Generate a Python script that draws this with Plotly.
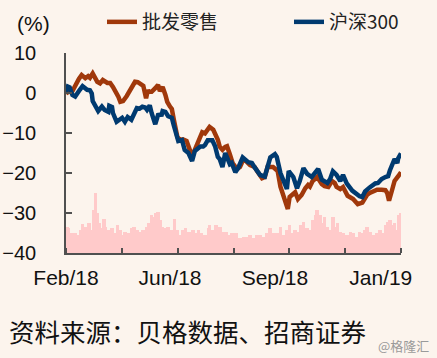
import pandas as pd
import plotly.graph_objects as go

START = "2018-02-01"

# 批发零售 (wholesale & retail), cumulative % change; day offsets from 2018-02-01
retail_days = [0, 3, 7, 11, 14, 17, 21, 24, 26, 29, 34, 37, 40, 45, 48, 51, 53, 57, 59, 62,
               66, 70, 72, 75, 78, 80, 84, 87, 89, 90, 93, 97, 100, 102, 105, 108, 110, 113, 115, 117,
               120, 121, 124, 127, 131, 135, 138, 142, 146, 148, 151, 156, 160, 162, 165, 167, 170, 173, 175, 178,
               181, 186, 189, 192, 195, 200, 205, 208, 211, 213, 216, 219, 225, 230, 233, 235, 238, 241, 243, 249,
               252, 256, 260, 263, 265, 268, 273, 276, 278, 281, 285, 289, 292, 294, 298, 301, 306, 312, 317, 322,
               325, 327, 330, 333, 336, 338, 343, 347, 349, 351, 354, 357, 361, 364]
retail_vals = [-0.1, 0.3, 0.5, 2.4, 3.5, 4.5, 3.7, 4.2, 3.8, 4.9, 2.8, 2.4, 3.25, 2.5, 2.5, 1.5, 0.75, -1.0, -2.2, -2.0,
               -0.75, 0.8, 1.6, 2.8, 2.7, 2.4, 1.8, -1.3, 0.75, 0.3, 0.3, 1.2, 2.0, 0.5, 1.5, -0.5, -2.2, -3.4, -4.0, -6.5,
               -10.0, -11.0, -11.75, -11.6, -12.0, -14.5, -15.3, -13.0, -10.5, -9.8, -10.1, -8.5, -9.2, -10.0, -11.7, -13.4, -14.2, -13.5, -13.3, -15.3,
               -17.5, -19.0, -18.5, -17.0, -16.9, -18.0, -18.5, -19.6, -20.5, -21.3, -21.0, -18.5, -18.5, -19.5, -23.4, -25.0, -27.5, -29.0, -26.0, -24.8,
               -26.5, -25.5, -23.8, -23.0, -23.4, -22.0, -21.0, -22.0, -22.8, -23.3, -23.5, -22.0, -22.5, -23.5, -24.0, -23.5, -25.7, -26.5, -27.8, -27.4,
               -26.0, -25.5, -25.0, -24.6, -24.3, -24.2, -24.2, -24.3, -25.0, -26.9, -24.5, -22.0, -20.8, -19.8]

# 沪深300 (CSI 300), cumulative % change
csi_days = [0, 2, 4, 7, 10, 12, 15, 18, 23, 26, 28, 29, 32, 35, 39, 42, 46, 47, 50, 51,
            55, 59, 61, 64, 67, 71, 75, 77, 80, 83, 86, 88, 90, 91, 93, 97, 100, 104, 105, 108,
            111, 115, 117, 120, 122, 126, 129, 133, 137, 140, 146, 149, 151, 154, 156, 159, 162, 165, 167, 170,
            173, 175, 176, 178, 180, 184, 187, 192, 198, 202, 205, 211, 216, 222, 227, 229, 233, 236, 240, 242,
            247, 251, 254, 258, 262, 267, 271, 274, 278, 284, 287, 290, 294, 298, 301, 305, 311, 316, 319, 322,
            325, 330, 336, 339, 343, 347, 350, 352, 355, 357, 360, 361, 364]
csi_vals = [0.3, 1.6, 1.4, -0.5, -0.9, 0.0, 0.8, 1.7, 0.8, 0.7, -0.1, -2.0, -3.4, -4.5, -3.4, -4.25, -4.7, -3.2, -3.5, -5.0,
            -7.2, -6.4, -6.2, -7.2, -6.0, -6.7, -4.7, -3.75, -3.9, -3.4, -3.6, -4.2, -3.5, -3.1, -5.0, -7.8, -5.5, -5.4, -4.5, -4.7,
            -5.8, -6.2, -8.0, -11.0, -12.0, -11.75, -14.25, -15.0, -17.0, -14.5, -13.4, -13.4, -13.0, -11.8, -11.75, -11.8, -13.3, -16.0, -16.5, -18.5,
            -15.0, -16.0, -16.5, -17.8, -17.5, -19.8, -18.8, -16.1, -17.3, -17.5, -18.6, -20.5, -20.9, -16.1, -15.3, -16.0, -20.0, -21.5, -24.0, -19.5,
            -21.0, -23.8, -22.0, -18.8, -20.2, -21.0, -19.8, -19.0, -21.7, -22.5, -21.5, -19.6, -20.5, -22.0, -20.5, -22.6, -24.4, -25.3, -25.8, -26.0,
            -24.6, -23.6, -22.6, -22.5, -21.5, -21.0, -20.8, -19.3, -17.2, -16.5, -17.5, -16.3, -15.1]

# Pink background bars (turnover level, height above the -40 baseline)
bar_days = [1, 2, 6, 10, 13, 16, 18, 21, 23, 25, 28, 30, 32, 34, 36, 38, 41, 43, 46, 50,
            53, 56, 59, 60, 64, 68, 71, 74, 77, 80, 84, 88, 90, 93, 96, 98, 100, 102, 105, 109,
            111, 115, 118, 121, 124, 127, 130, 134, 138, 141, 144, 147, 151, 155, 156, 159, 163, 167, 170, 174,
            176, 180, 182, 185, 189, 193, 196, 200, 204, 207, 211, 214, 218, 222, 225, 229, 233, 236, 240, 243,
            246, 249, 252, 255, 258, 262, 265, 268, 271, 273, 276, 279, 281, 284, 287, 290, 292, 295, 298, 301,
            305, 309, 312, 315, 319, 322, 325, 327, 330, 334, 338, 341, 344, 347, 350, 352, 355, 357, 360, 362, 364]
bar_vals = [6.6, 6.2, 5.1, 4.9, 4.5, 5.75, 7.2, 6.6, 5.75, 7.4, 5.75, 10.75, 14.9, 9.9, 7.4, 6.2, 8.4, 6.6, 5.75, 6.2,
            4.9, 7.0, 5.75, 4.5, 5.3, 4.9, 6.2, 6.6, 5.75, 5.3, 5.75, 6.6, 7.4, 9.5, 9.1, 9.9, 10.2, 8.25, 6.6, 6.2,
            6.6, 5.75, 8.4, 5.75, 4.5, 5.75, 6.2, 5.3, 5.75, 4.9, 5.75, 4.9, 4.5, 6.2, 7.0, 5.75, 7.0, 6.6, 5.3, 5.3,
            4.5, 4.9, 4.5, 4.9, 3.7, 4.1, 4.1, 4.5, 3.7, 4.5, 4.5, 4.1, 4.9, 6.2, 4.9, 4.9, 6.6, 4.5, 5.75, 7.0,
            4.9, 5.75, 5.3, 7.0, 7.8, 6.2, 5.75, 8.25, 9.5, 10.75, 9.5, 7.4, 9.1, 6.6, 5.75, 9.1, 6.6, 7.4, 5.3, 4.9,
            4.5, 5.3, 4.9, 4.1, 5.3, 4.9, 5.75, 6.6, 5.3, 4.5, 4.9, 5.75, 4.9, 7.0, 7.8, 8.25, 7.0, 7.4, 5.75, 9.5, 9.9]

x_label_days = [0, 113, 227, 342]
x_labels = ["Feb/18", "Jun/18", "Sep/18", "Jan/19"]
y_ticks = [10, 0, -10, -20, -30, -40]

start = pd.Timestamp(START)
to_dates = lambda days: [start + pd.Timedelta(days=d) for d in days]

ORANGE = "#A0380B"
BLUE = "#003A70"
PINK = "#FFCACA"
BG = "#FCF4ED"
AXIS = "#505050"
FONT = "Liberation Sans, Arial, Noto Sans CJK SC"
CJK = "Noto Sans CJK SC"

fig = go.Figure()
fig.add_trace(go.Bar(x=to_dates(bar_days), y=bar_vals, base=-40,
                     width=4 * 86400000, marker=dict(color=PINK, line=dict(width=0)),
                     showlegend=False, hoverinfo="skip"))
fig.add_trace(go.Scatter(x=to_dates(retail_days), y=retail_vals, mode="lines", name="批发零售",
                         line=dict(color=ORANGE, width=4.5), legend="legend"))
fig.add_trace(go.Scatter(x=to_dates(csi_days), y=csi_vals, mode="lines", name="沪深300",
                         line=dict(color=BLUE, width=4.5), legend="legend2"))

end = start + pd.Timedelta(days=364)
mark_vals = [start + (end - start) * i / 6 for i in range(7)]

legend_common = dict(orientation="h", xref="paper", yref="paper", xanchor="left", yanchor="middle",
                     font=dict(family=CJK, size=19, color="#222222"),
                     bgcolor="rgba(0,0,0,0)", itemwidth=30)

fig.update_layout(
    width=437, height=358,
    margin=dict(l=66, r=36, t=53, b=105, autoexpand=False),
    paper_bgcolor=BG, plot_bgcolor=BG,
    font=dict(family=FONT, size=20, color="#111111"),
    bargap=0,
    showlegend=True,
    legend=dict(x=(102 - 66) / 335, y=(253 - 22) / 200, **legend_common),
    legend2=dict(x=(289 - 66) / 335, y=(253 - 22) / 200, **legend_common),
    xaxis=dict(type="date", range=[start, end], showgrid=False, zeroline=False,
               showline=True, linecolor=AXIS, linewidth=1.5,
               tickvals=to_dates(x_label_days), ticktext=x_labels, ticks="",
               tickfont=dict(size=21, family=FONT), ticklabelstandoff=5,
               minor=dict(tickmode="array", tickvals=mark_vals, ticks="inside",
                          ticklen=5, tickcolor=AXIS, tickwidth=1.5, showgrid=False)),
    yaxis=dict(range=[-40, 10], tickvals=y_ticks, showgrid=False, zeroline=False,
               showline=True, linecolor=AXIS, linewidth=1.5,
               ticks="inside", ticklen=6, tickcolor=AXIS, tickwidth=1.5,
               tickfont=dict(size=20, family=FONT), ticklabelstandoff=24),
    annotations=[
        dict(text="(%)", xref="paper", yref="paper", x=(15 - 66) / 335, y=(253 - 23) / 200,
             xanchor="left", yanchor="middle", showarrow=False,
             font=dict(size=21, family=FONT, color="#111111")),
        dict(text="资料来源：贝格数据、招商证券", xref="paper", yref="paper",
             x=(7 - 66) / 335, y=(253 - 330) / 200, xanchor="left", yanchor="middle",
             showarrow=False, font=dict(size=25.5, family=CJK, color="#111111")),
        dict(text="@格隆汇", xref="paper", yref="paper", x=(431 - 66) / 335, y=(253 - 345) / 200,
             xanchor="right", yanchor="middle", showarrow=False,
             font=dict(size=13, family=CJK, color="#9a9a9a")),
    ],
)

fig.write_html("out.html", config={"displayModeBar": False},
               post_script="document.body.style.margin='0';")
